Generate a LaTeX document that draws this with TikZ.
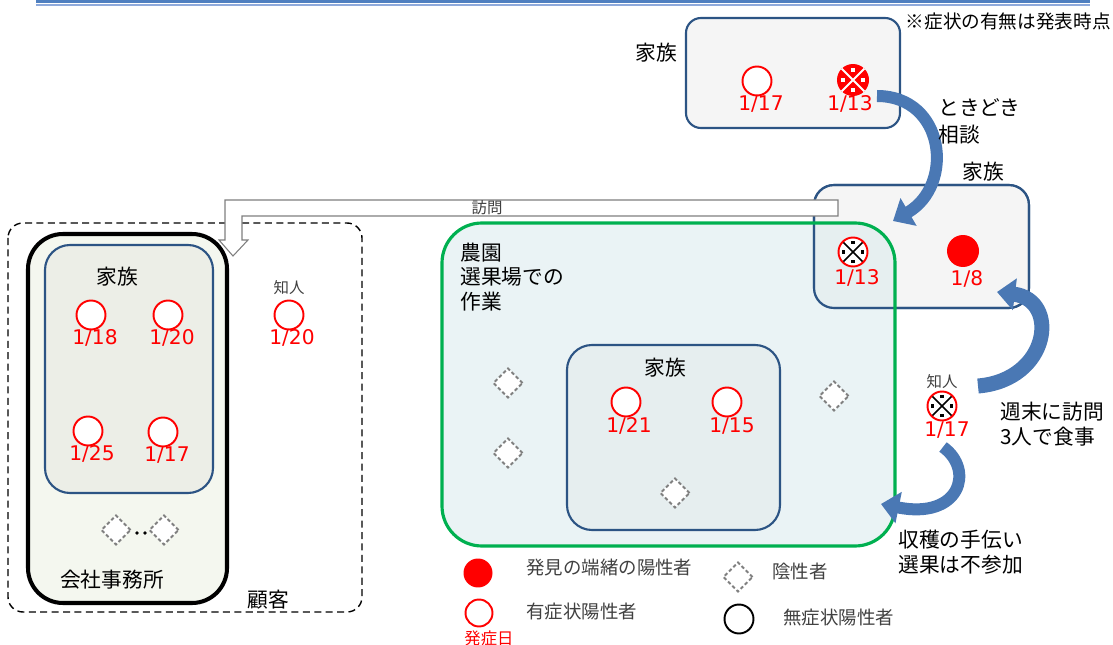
\documentclass[tikz,border=0pt]{standalone}
\usepackage{fontspec}
\setmainfont{Noto Sans CJK JP}
\newfontfamily\datefont{DejaVu Sans}
\usetikzlibrary{shapes.geometric, arrows.meta, positioning}
\definecolor{boxblue}{HTML}{2C5484}
\definecolor{boxgray}{HTML}{F5F5F5}
\definecolor{farmgreen}{HTML}{00B050}
\definecolor{farmfill}{HTML}{DCEBEE}
\definecolor{famfill}{HTML}{E6EEEF}
\definecolor{officefill}{HTML}{F4F7EF}
\definecolor{officefam}{HTML}{ECEEE7}
\definecolor{arrblue}{HTML}{4A78B4}
\definecolor{rulea}{HTML}{4F7FC0}
\definecolor{ruleb}{HTML}{8FAADC}
\definecolor{txtgray}{HTML}{404040}
\definecolor{visgray}{HTML}{7F7F7F}
\tikzstyle{posr}=[shape=circle, draw=red, fill=white, line width=1.1pt, inner sep=0pt, minimum size=0.58cm]
\tikzstyle{srcr}=[shape=circle, fill=red, inner sep=0pt, minimum size=0.64cm]
\tikzstyle{posx}=[posr, path picture={
  \draw[black, line width=0.9pt] (path picture bounding box.north west) -- (path picture bounding box.south east)
    (path picture bounding box.north east) -- (path picture bounding box.south west);
  \foreach \a in {0,90,180,270}
    \fill[black] ([shift={(\a:0.19cm)}]path picture bounding box.center) +(-1.1pt,-1.1pt) rectangle +(1.1pt,1.1pt);
}]
\tikzstyle{srcx}=[srcr, path picture={
  \draw[white, line width=1.1pt] (path picture bounding box.north west) -- (path picture bounding box.south east)
    (path picture bounding box.north east) -- (path picture bounding box.south west);
  \foreach \a in {0,90,180,270}
    \fill[white] ([shift={(\a:0.2cm)}]path picture bounding box.center) +(-1.1pt,-1.1pt) rectangle +(1.1pt,1.1pt);
}]
\tikzstyle{negd}=[shape=diamond, draw=gray, dash pattern=on 2pt off 1.4pt, line width=1.1pt, fill=white, inner sep=0pt, minimum size=0.6cm]
\tikzstyle{lbl}=[font=\fontsize{11.8}{14}\selectfont, inner sep=0pt]
\tikzstyle{smalltxt}=[font=\fontsize{8.8}{10}\selectfont, text=txtgray, inner sep=0pt]
\tikzstyle{date}=[font=\datefont\fontsize{11.5}{12}\selectfont, text=red, inner sep=0pt]
\tikzstyle{legtxt}=[font=\fontsize{10.5}{12}\selectfont, text=txtgray, anchor=west, inner sep=0pt]
\tikzstyle{bigarr}=[draw=arrblue, line width=0.24cm, -{Triangle[width=0.62cm,length=0.36cm]}]

\begin{document}
\begin{tikzpicture}[x=0.02cm,y=-0.02cm]
\useasboundingbox (0,0) rectangle (1113,645);
%header rule
\draw[rulea, line width=1.6pt] (36,1.4) -- (1090,1.4);
\draw[ruleb, line width=0.8pt] (36,4.9) -- (1090,4.9);
\node[lbl, anchor=east, font=\fontsize{10.6}{12}\selectfont] (note) at (1111,21) {※症状の有無は発表時点};
%customers and office
\draw[dash pattern=on 4pt off 2.5pt, line width=0.8pt, rounded corners=0.3cm] (8,223) rectangle (362,612);
\draw[line width=2.3pt, fill=officefill, rounded corners=0.7cm] (28,234) rectangle (227,603);
\draw[boxblue, line width=1.2pt, fill=officefam, rounded corners=0.5cm] (45,245) rectangle (213,493);
\node[lbl] (fam1) at (117,277) {家族};
\foreach \x/\y/\d [count=\i] in {91/315/18,168/315/20,88/431/25,163/432/17}{
  \node[posr] (o\i) at (\x,\y) {};
  \node[date] (od\i) at (\x+4,\y+23) {1/\d};
}
\node[smalltxt] (acq1) at (289,288) {知人};
\node[posr] (a1) at (289,315) {};
\node[date] (ad1) at (292,338) {1/20};
\node[negd] (n1) at (116,530) {};
\node[negd] (n2) at (164,530) {};
\fill (137,533) circle (1pt) (145,533) circle (1pt);
\node[lbl] (office) at (112,580) {会社事務所};
\node[lbl] (cust) at (268,600) {顧客};
%family B and farm
\draw[boxblue, line width=1.2pt, fill=boxgray, rounded corners=0.4cm] (814,185) rectangle (1029,308);
\fill[farmfill, fill opacity=0.6, rounded corners=0.8cm] (442,223) rectangle (895,546);
\draw[boxblue, line width=1.2pt, rounded corners=0.4cm] (814,185) rectangle (1029,308);
\draw[farmgreen, line width=1.8pt, rounded corners=0.8cm] (442,223) rectangle (895,546);
\node[lbl, anchor=west, align=left] (farm) at (460,277) {農園\\選果場での\\作業};
\draw[boxblue, line width=1.2pt, fill=famfill, rounded corners=0.5cm] (567,345) rectangle (780,530);
\node[lbl] (fam3) at (665,368) {家族};
\node[posr] (f1) at (626,402) {};
\node[date] (fd1) at (629,426) {1/21};
\node[posr] (f2) at (727,402) {};
\node[date] (fd2) at (732,426) {1/15};
\foreach \x/\y [count=\i] in {508/383,508/453,675/493,834/396}{
  \node[negd] (m\i) at (\x,\y) {};
}
\node[lbl] (fam2) at (983,172) {家族};
\node[posx] (b1) at (853,252) {};
\node[date] (bd1) at (857,278) {1/13};
\node[srcr] (b2) at (963,251) {};
\node[date] (bd2) at (967,279) {1/8};
%visit arrow
\draw[draw=visgray, fill=white, line width=0.6pt] (838,200) -- (225,200) -- (225,240) -- (219,240) -- (233,256)
  -- (248,240) -- (242,240) -- (242,216) -- (838,216) -- cycle;
\node[smalltxt] (visit) at (487,208) {訪問};
%family A
\draw[boxblue, line width=1.2pt, fill=boxgray, rounded corners=0.3cm] (686,18) rectangle (900,128);
\node[lbl] (fam4) at (656,53) {家族};
\node[posr] (t1) at (757,81) {};
\node[date] (td1) at (761,104) {1/17};
\node[srcx] (t2) at (853,80) {};
\node[date] (td2) at (850,104) {1/13};
%acquaintance
\node[smalltxt] (acq2) at (942,382) {知人};
\node[posx] (k1) at (942,406) {};
\node[date] (kd1) at (947,430) {1/17};
%curved arrows
\coordinate (c1s) at (877,96); \coordinate (c1e) at (893,221);
\coordinate (c2s) at (978,386); \coordinate (c2e) at (997,292);
\coordinate (c3s) at (943,447); \coordinate (c3e) at (881,504);
\draw[bigarr] (c1s) .. controls (945,96) and (955,185) .. (c1e);
\draw[bigarr, line width=0.3cm] (c2s) .. controls (1050,380) and (1060,300) .. (c2e);
\draw[bigarr] (c3s) .. controls (975,470) and (960,520) .. (c3e);
\node[lbl, anchor=west, align=left, font=\fontsize{11.8}{15.3}\selectfont] (say1) at (938,121) {ときどき\\相談};
\node[lbl, anchor=west, align=left] (say2) at (1000,424) {週末に訪問\\3人で食事};
\node[lbl, anchor=west, align=left] (say3) at (898,552) {収穫の手伝い\\選果は不参加};
%legend
\node[srcr, minimum size=0.58cm] (l1) at (478,573) {};
\node[legtxt] (lt1) at (526,568) {発見の端緒の陽性者};
\node[posr, minimum size=0.54cm] (l2) at (479,613) {};
\node[legtxt] (lt2) at (526,611) {有症状陽性者};
\node[inner sep=0pt, text=red, font=\fontsize{9.3}{10}\selectfont] (lt3) at (489,638) {発症日};
\node[negd] (l3) at (738,577) {};
\node[legtxt] (lt4) at (772,572) {陰性者};
\node[posr, draw=black, minimum size=0.58cm] (l4) at (739,619) {};
\node[legtxt] (lt5) at (783,617) {無症状陽性者};
\end{tikzpicture}
\end{document}
